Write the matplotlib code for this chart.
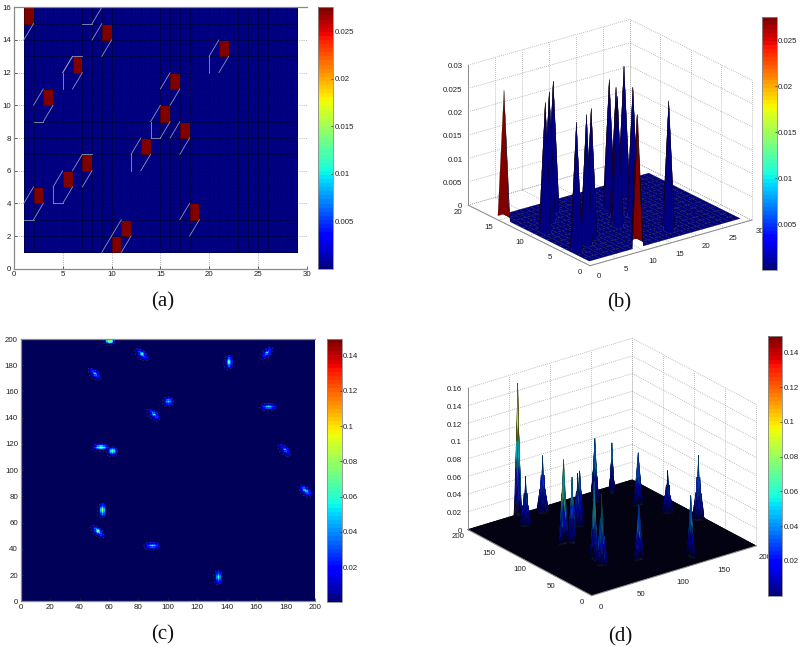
import numpy as np
import matplotlib
matplotlib.use('Agg')
import matplotlib.pyplot as plt
from matplotlib.cm import ScalarMappable
from matplotlib.colors import Normalize
from mpl_toolkits.mplot3d import proj3d

plt.rcParams['font.family'] = ['Liberation Sans', 'DejaVu Sans']

W, H = 800, 647

# coarse map: cells holding the peak value
PEAK_X = [1, 9, 21, 6, 16, 3, 15, 17, 13, 7, 5, 2, 18, 11, 10]
PEAK_Y = [15, 14, 13, 12, 11, 10, 9, 8, 7, 6, 5, 4, 3, 2, 1]
PEAK_LEVEL = 0.0275
COARSE_VMAX = 0.0275

# light facet edges that don't follow the cell diagonals
EXTRA_EDGES = [(7, 15, 8, 15), (8, 15, 9, 16), (5, 11, 5, 12), (5, 12, 6, 13), (6, 13, 7, 13),
               (2, 9, 3, 9), (14, 8, 14, 9), (14, 8, 15, 8), (12, 6, 12, 7), (7, 7, 8, 7),
               (4, 4, 4, 5), (4, 4, 5, 4), (1, 3, 2, 3), (20, 12, 20, 13)]

# fine map: blob centres, peak heights and the footprint each one uses
BLOB_X = [60, 82, 167, 140.6, 50.5, 100.5, 168, 89.5, 54, 62.3, 179, 193, 54.6, 51.6, 89, 133.6]
BLOB_Y = [199, 188, 189, 182, 173, 152, 147.5, 142, 116.6, 114, 114.6, 83.5, 69.4, 52.6, 42, 18.3]
BLOB_PEAK = [0.149, 0.065, 0.055, 0.07, 0.056, 0.056, 0.059, 0.06, 0.095, 0.074, 0.048, 0.073,
             0.088, 0.08, 0.062, 0.069]
BLOB_SHAPE = ['round', 'anti', 'diag', 'tall', 'anti', 'round', 'wide', 'anti', 'wide', 'round',
              'anti', 'anti', 'tall', 'anti', 'wide', 'tall']
FINE_VMAX = 0.1495

TALL = np.array([
    [0.00, 0.02, 0.08, 0.02, 0.00],
    [0.02, 0.14, 0.28, 0.14, 0.02],
    [0.06, 0.28, 0.44, 0.28, 0.06],
    [0.12, 0.38, 0.60, 0.38, 0.12],
    [0.18, 0.48, 0.80, 0.48, 0.18],
    [0.20, 0.55, 1.00, 0.55, 0.20],
    [0.18, 0.48, 0.80, 0.48, 0.18],
    [0.12, 0.38, 0.60, 0.38, 0.12],
    [0.06, 0.28, 0.44, 0.28, 0.06],
    [0.02, 0.14, 0.28, 0.14, 0.02],
    [0.00, 0.02, 0.08, 0.02, 0.00],
])
ROUND = np.array([
    [0.00, 0.04, 0.10, 0.16, 0.10, 0.04, 0.00],
    [0.04, 0.22, 0.36, 0.44, 0.36, 0.22, 0.04],
    [0.10, 0.36, 0.56, 0.70, 0.56, 0.36, 0.10],
    [0.16, 0.44, 0.70, 1.00, 0.70, 0.44, 0.16],
    [0.10, 0.36, 0.56, 0.70, 0.56, 0.36, 0.10],
    [0.04, 0.22, 0.36, 0.44, 0.36, 0.22, 0.04],
    [0.00, 0.04, 0.10, 0.16, 0.10, 0.04, 0.00],
])
DIAG = np.array([
    [0.00, 0.00, 0.00, 0.00, 0.00, 0.02, 0.06, 0.08, 0.03],
    [0.00, 0.00, 0.00, 0.02, 0.08, 0.20, 0.30, 0.22, 0.06],
    [0.00, 0.00, 0.04, 0.14, 0.30, 0.44, 0.40, 0.20, 0.02],
    [0.00, 0.02, 0.14, 0.36, 0.58, 0.66, 0.30, 0.08, 0.00],
    [0.00, 0.08, 0.30, 0.58, 1.00, 0.58, 0.30, 0.08, 0.00],
    [0.00, 0.08, 0.30, 0.66, 0.58, 0.36, 0.14, 0.02, 0.00],
    [0.02, 0.20, 0.40, 0.44, 0.30, 0.14, 0.04, 0.00, 0.00],
    [0.06, 0.22, 0.30, 0.20, 0.08, 0.02, 0.00, 0.00, 0.00],
    [0.03, 0.08, 0.06, 0.02, 0.00, 0.00, 0.00, 0.00, 0.00],
])
# footprints are stored with row 0 at the top
FOOTPRINTS = {'tall': TALL, 'wide': TALL.T, 'round': ROUND, 'diag': DIAG, 'anti': np.fliplr(DIAG)}

COARSE_TICKS = [0.005, 0.01, 0.015, 0.02, 0.025]
FINE_TICKS = [0.02, 0.04, 0.06, 0.08, 0.1, 0.12, 0.14]

TICK_COLOR = '#222222'
FRAME_COLOR = '#8a8a8a'
GRID_COLOR = '#9a9a9a'
TICK_SIZE = 5.7
FLOOR_DARK = (0.02, 0.02, 0.17, 1)
FINE_BACKGROUND = '#000058'


def axes_px(fig, left, top, right, bottom, **kw):
    return fig.add_axes([left / W, 1 - bottom / H, (right - left) / W, (bottom - top) / H], **kw)


def coarse_surface():
    z = np.zeros((16, 29))
    z[np.array(PEAK_Y) - 1, np.array(PEAK_X) - 1] = PEAK_LEVEL
    return z


def fine_surface():
    z = np.zeros((200, 200))
    for bx, by, peak, shape in zip(BLOB_X, BLOB_Y, BLOB_PEAK, BLOB_SHAPE):
        stamp = FOOTPRINTS[shape][::-1] * peak
        rows, cols = stamp.shape
        x0 = int(round(bx)) - 1 - cols // 2
        y0 = int(round(by)) - 1 - rows // 2
        for r in range(rows):
            for c in range(cols):
                if 0 <= y0 + r < 200 and 0 <= x0 + c < 200:
                    z[y0 + r, x0 + c] = max(z[y0 + r, x0 + c], stamp[r, c])
    return z


def add_colorbar(fig, box, vmax, ticks):
    cax = axes_px(fig, *box)
    cmap = plt.get_cmap('jet', 64)
    cbar = fig.colorbar(ScalarMappable(Normalize(0, vmax), cmap), cax=cax)
    cbar.set_ticks(ticks, labels=[f'{t:g}' for t in ticks])
    cbar.ax.tick_params(labelsize=TICK_SIZE, length=1.5, width=0.5, direction='in', pad=1,
                        colors=TICK_COLOR)
    cbar.outline.set_edgecolor(FRAME_COLOR)
    cbar.outline.set_linewidth(0.6)
    return cbar


def style_flat(ax, xlim, ylim, xticks, yticks):
    ax.set_xlim(*xlim)
    ax.set_ylim(*ylim)
    ax.set_xticks(xticks)
    ax.set_yticks(yticks)
    ax.set_axisbelow(True)
    ax.grid(True, ls=':', lw=0.6, color=GRID_COLOR)
    ax.tick_params(labelsize=TICK_SIZE, length=2, width=0.5, direction='in', pad=2,
                   colors=TICK_COLOR)
    for spine in ax.spines.values():
        spine.set_edgecolor(FRAME_COLOR)
        spine.set_linewidth(0.9)
    ax.spines['right'].set_visible(False)


def fit_box(ax, origin_px, far_px, far_pt):
    # scale and shift the square 3D axes until the floor edge lands on the wanted pixels
    def floor_px(points):
        xs, ys, zs = zip(*points)
        px, py, _ = proj3d.proj_transform(np.array(xs, float), np.array(ys, float),
                                          np.array(zs, float), ax.get_proj())
        return ax.transData.transform(np.c_[px, py])

    target = np.array([[origin_px[0], H - origin_px[1]], [far_px[0], H - far_px[1]]])
    pos = ax.get_position()
    got = floor_px([(0, 0, 0), far_pt])
    scale = np.linalg.norm(target[1] - target[0]) / np.linalg.norm(got[1] - got[0])
    ax.set_position([pos.x0, pos.y0, pos.width * scale, pos.height * scale])
    pos = ax.get_position()
    got = floor_px([(0, 0, 0), far_pt])
    dx, dy = target[0] - got[0]
    ax.set_position([pos.x0 + dx / W, pos.y0 + dy / H, pos.width, pos.height])


def draw_box(ax, xmax, ymax, zmax, xticks, yticks, zticks, zfmt):
    gl = dict(ls=':', lw=0.55, color=GRID_COLOR, zorder=1)
    for x in xticks:
        ax.plot([x, x], [0, ymax], [0, 0], **gl)
        ax.plot([x, x], [ymax, ymax], [0, zmax], **gl)
    for y in yticks:
        ax.plot([0, xmax], [y, y], [0, 0], **gl)
        ax.plot([xmax, xmax], [y, y], [0, zmax], **gl)
    for z in zticks:
        ax.plot([0, xmax], [ymax, ymax], [z, z], **gl)
        ax.plot([xmax, xmax], [0, ymax], [z, z], **gl)

    solid = dict(lw=0.7, color=FRAME_COLOR, zorder=5)
    ax.plot([0, xmax], [0, 0], [0, 0], **solid)
    ax.plot([0, 0], [0, ymax], [0, 0], **solid)
    ax.plot([0, 0], [ymax, ymax], [0, zmax], **solid)

    text = dict(fontsize=TICK_SIZE, color=TICK_COLOR, zorder=6)
    for x in xticks:
        ax.text(x, -0.07 * ymax, -0.05 * zmax, f'{x:g}', ha='center', va='center', **text)
    for y in yticks:
        ax.text(-0.06 * xmax, y, -0.03 * zmax, f'{y:g}', ha='center', va='center', **text)
    for z in zticks:
        ax.text(-0.035 * xmax, ymax, z, zfmt(z), ha='right', va='center', **text)


def surface_axes(fig, xs, ys, zz, vmax, xmax, ymax, zmax, elev, azim, zratio, origin_px, far_px,
                 xticks, yticks, zticks, edge_lw, floor_color=None):
    ax = axes_px(fig, 100, 100, 500, 500, projection='3d')
    ax.set_proj_type('ortho')
    ax.computed_zorder = False
    ax.set_axis_off()
    ax.view_init(elev=elev, azim=azim)
    ax.set_box_aspect((1, 1, zratio))
    ax.set_xlim(0, xmax)
    ax.set_ylim(0, ymax)
    ax.set_zlim(0, zmax)

    draw_box(ax, xmax, ymax, zmax, xticks, yticks, zticks, lambda v: f'{v:g}')

    xx, yy = np.meshgrid(xs, ys)
    colors = plt.get_cmap('jet', 64)(Normalize(0, vmax)(zz))
    edges = 'black'
    if floor_color is not None:
        # dense mesh: dark facet edges, one per polygon, so no white shows between facets
        colors[zz <= 0] = floor_color
        edges = colors[:-1, :-1].reshape(-1, 4).copy()
        edges[:, :3] *= 0.35
    ax.plot_surface(xx, yy, zz, rstride=1, cstride=1, facecolors=colors, shade=False,
                    edgecolor=edges, linewidth=edge_lw, antialiased=True, zorder=2)
    ax.set_xlim(0, xmax)
    ax.set_ylim(0, ymax)
    ax.set_zlim(0, zmax)
    fit_box(ax, origin_px, far_px, (xmax, 0, 0))
    return ax


def caption(fig, label, x, y):
    fig.text(x / W, 1 - y / H, label, family='Liberation Serif', fontsize=15, color='#111111',
             ha='center', va='center')


def main():
    fig = plt.figure(figsize=(W / 100, H / 100), dpi=100)
    coarse = coarse_surface()
    fine = fine_surface()
    cx = np.arange(1, 30)
    cy = np.arange(1, 17)
    fx = np.arange(1, 201)
    jet = plt.get_cmap('jet', 64)

    # (a) coarse map seen from above
    ax = axes_px(fig, 14, 7.3, 306.7, 268.7)
    ax.pcolormesh(cx, cy, coarse[:-1, :-1], cmap=jet, vmin=0, vmax=COARSE_VMAX,
                  edgecolors=(0, 0, 0, 0.35), linewidth=0.5)
    edges = list(EXTRA_EDGES)
    for px, py in zip(PEAK_X, PEAK_Y):
        if px > 1:
            edges.append((px - 1, py, px, py + 1))
        if py > 1:
            edges.append((px, py - 1, px + 1, py))
    for x0, y0, x1, y1 in edges:
        ax.plot([x0, x1], [y0, y1], color='#8f97b8', lw=0.6, zorder=3)
    style_flat(ax, (0, 30), (0, 16), range(0, 31, 5), range(0, 17, 2))
    add_colorbar(fig, (318, 7.3, 333, 269), COARSE_VMAX, COARSE_TICKS)

    # (b) coarse map as a surface
    surface_axes(fig, cx, cy, coarse, COARSE_VMAX, 30, 20, 0.03, 22, -127, 0.746,
                 (590, 265.7), (751.7, 220), range(0, 31, 5), range(0, 21, 5),
                 [0, 0.005, 0.01, 0.015, 0.02, 0.025, 0.03], 0.15)
    add_colorbar(fig, (762.3, 17.3, 776.7, 270), COARSE_VMAX, COARSE_TICKS)

    # (c) fine map seen from above, zero cells left to the background colour
    ax = axes_px(fig, 20.7, 339, 315, 601.3)
    ax.set_facecolor(FINE_BACKGROUND)
    ax.pcolormesh(fx, fx, np.ma.masked_less_equal(fine[:-1, :-1], 0), cmap=jet, vmin=0, vmax=FINE_VMAX)
    ax.contour(fx, fx, fine, levels=[0.0012], colors='#8f97b8', linewidths=0.3, alpha=0.5,
               linestyles=[(0, (4, 5))], zorder=3)
    style_flat(ax, (0, 200), (0, 200), range(0, 201, 20), range(0, 201, 20))
    ax.grid(False)
    add_colorbar(fig, (326.7, 339, 341.7, 602.3), FINE_VMAX, FINE_TICKS)

    # (d) fine map as a surface
    surface_axes(fig, fx, fx, fine, FINE_VMAX, 200, 200, 0.16, 23.7, -127, 0.75,
                 (591.7, 595.7), (756, 545), range(0, 201, 50), range(0, 201, 50),
                 [0, 0.02, 0.04, 0.06, 0.08, 0.1, 0.12, 0.14, 0.16], 0.3, FLOOR_DARK)
    add_colorbar(fig, (767.7, 336, 782.3, 595.7), FINE_VMAX, FINE_TICKS)

    caption(fig, '(a)', 163, 302)
    caption(fig, '(b)', 619, 303)
    caption(fig, '(c)', 163, 635)
    caption(fig, '(d)', 620, 637)

    fig.savefig('out.png', dpi=100, facecolor='white')
    plt.close(fig)


if __name__ == "__main__":
    main()
